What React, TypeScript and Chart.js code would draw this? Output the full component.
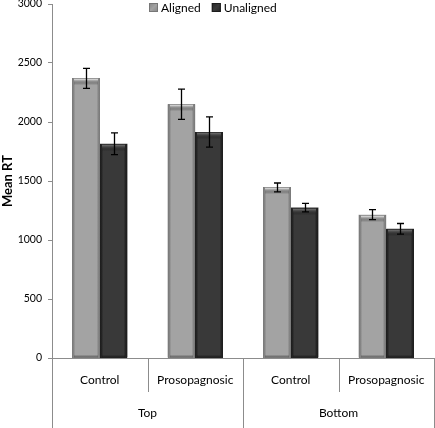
import React, { useEffect, useRef } from "react";
import { Chart, registerables } from "chart.js";

Chart.register(...registerables);

const categories = ["Control", "Prosopagnosic", "Control", "Prosopagnosic"];
const groupLabels = ["Top", "Bottom"];
const groupSpans = [2, 2];
const seriesNames = ["Aligned", "Unaligned"];
const alignedValues = [2370, 2150, 1445, 1215];
const alignedErrors = [85, 128, 38, 42];
const unalignedValues = [1815, 1915, 1275, 1095];
const unalignedErrors = [92, 128, 36, 45];
const yTicks = [0, 500, 1000, 1500, 2000, 2500, 3000];

const FONT = "Lato, 'Open Sans', sans-serif";
const errorSets = [alignedErrors, unalignedErrors];
const valueSets = [alignedValues, unalignedValues];
const fills = ["#a3a3a3", "#393939"];
const edges = ["#858585", "#242424"];
const outers = ["#777777", "#1c1c1c"];
const highlights = ["#d2d2d2", "#666666"];

const bevelPlugin = {
  id: "bevel",
  afterDatasetsDraw(chart: any) {
    const { ctx } = chart;
    ctx.save();
    chart.data.datasets.forEach((_ds: any, di: number) => {
      const meta = chart.getDatasetMeta(di);
      meta.data.forEach((el: any) => {
        const l = Math.round(el.x - el.width / 2);
        const r = Math.round(el.x + el.width / 2);
        const t = Math.round(el.y);
        const b = Math.round(el.base);
        const w = r - l;
        const h = b - t;
        const g = ctx.createLinearGradient(l, 0, r, 0);
        g.addColorStop(0, outers[di]);
        g.addColorStop(0.06, edges[di]);
        g.addColorStop(0.12, fills[di]);
        g.addColorStop(0.88, fills[di]);
        g.addColorStop(0.94, edges[di]);
        g.addColorStop(1, outers[di]);
        ctx.fillStyle = g;
        ctx.fillRect(l, t, w, h);
        const tg = ctx.createLinearGradient(0, t, 0, t + 7);
        tg.addColorStop(0, outers[di]);
        tg.addColorStop(0.2, highlights[di]);
        tg.addColorStop(1, "rgba(0,0,0,0)");
        ctx.fillStyle = tg;
        ctx.fillRect(l + 2, t, w - 4, 7);
        const bg = ctx.createLinearGradient(0, b - 3, 0, b);
        bg.addColorStop(0, "rgba(0,0,0,0)");
        bg.addColorStop(1, edges[di]);
        ctx.fillStyle = bg;
        ctx.fillRect(l + 2, b - 3, w - 4, 3);
      });
    });
    ctx.restore();
  },
};

const errorBarPlugin = {
  id: "errorBars",
  afterDatasetsDraw(chart: any) {
    const { ctx } = chart;
    const y = chart.scales.y;
    ctx.save();
    ctx.strokeStyle = "#000";
    ctx.lineWidth = 1.3;
    chart.data.datasets.forEach((_ds: any, di: number) => {
      const meta = chart.getDatasetMeta(di);
      meta.data.forEach((el: any, i: number) => {
        const v = valueSets[di][i];
        const e = errorSets[di][i];
        const yt = y.getPixelForValue(v + e);
        const yb = y.getPixelForValue(v - e);
        const cx = Math.round(el.x) + 0.5;
        ctx.beginPath();
        ctx.moveTo(cx, yt);
        ctx.lineTo(cx, yb);
        ctx.moveTo(cx - 3.5, yt);
        ctx.lineTo(cx + 3.5, yt);
        ctx.moveTo(cx - 3.5, yb);
        ctx.lineTo(cx + 3.5, yb);
        ctx.stroke();
      });
    });
    ctx.restore();
  },
};

const groupAxisPlugin = {
  id: "groupAxis",
  afterDraw(chart: any) {
    const { ctx, chartArea } = chart;
    const x = chart.scales.x;
    const n = categories.length;
    const left = chartArea.left;
    const right = chartArea.right;
    const bottom = chartArea.bottom;
    const step = (right - left) / n;
    ctx.save();
    ctx.strokeStyle = "#8c8c8c";
    ctx.lineWidth = 1;
    ctx.beginPath();
    ctx.moveTo(left, Math.round(bottom) + 0.5);
    ctx.lineTo(right, Math.round(bottom) + 0.5);
    const groupBounds = new Set<number>();
    let acc = 0;
    groupBounds.add(0);
    groupSpans.forEach((s) => {
      acc += s;
      groupBounds.add(acc);
    });
    for (let i = 0; i <= n; i++) {
      const bx = Math.round(left + i * step) + 0.5;
      const isGroup = groupBounds.has(i);
      ctx.moveTo(bx, bottom);
      ctx.lineTo(bx, isGroup ? chart.height : bottom + 34);
    }
    ctx.stroke();
    ctx.fillStyle = "#000";
    ctx.font = `12px ${FONT}`;
    ctx.textAlign = "center";
    ctx.textBaseline = "middle";
    categories.forEach((c, i) => {
      ctx.fillText(c, x.getPixelForValue(i), bottom + 22);
    });
    let start = 0;
    groupLabels.forEach((g, gi) => {
      const span = groupSpans[gi];
      const cx = left + (start + span / 2) * step;
      ctx.fillText(g, cx, bottom + 55);
      start += span;
    });

    ctx.textAlign = "left";
    let lx = 149;
    const ly = 3;
    seriesNames.forEach((name, i) => {
      const lg = ctx.createLinearGradient(lx, ly, lx + 9, ly + 9);
      lg.addColorStop(0, edges[i]);
      lg.addColorStop(0.5, fills[i]);
      lg.addColorStop(1, edges[i]);
      ctx.fillStyle = lg;
      ctx.fillRect(lx, ly, 9, 9);
      ctx.strokeStyle = outers[i];
      ctx.strokeRect(lx + 0.5, ly + 0.5, 8, 8);
      ctx.fillStyle = "#000";
      ctx.fillText(name, lx + 12, ly + 5.5);
      lx += 12 + ctx.measureText(name).width + 11;
    });
    ctx.restore();
  },
};

export default function App() {
  const ref = useRef<HTMLCanvasElement | null>(null);
  useEffect(() => {
    if (!ref.current) return;
    const chart = new Chart(ref.current, {
      type: "bar",
      data: {
        labels: categories,
        datasets: [
          {
            label: seriesNames[0],
            data: alignedValues,
            backgroundColor: fills[0],
            borderWidth: 0,
          },
          {
            label: seriesNames[1],
            data: unalignedValues,
            backgroundColor: fills[1],
            borderWidth: 0,
          },
        ],
      },
      options: {
        responsive: false,
        animation: false,
        devicePixelRatio: 1,
        layout: { padding: { top: 4, right: 1, bottom: 70, left: 0 } },
        datasets: { bar: { categoryPercentage: 0.58, barPercentage: 1 } },
        plugins: { legend: { display: false }, tooltip: { enabled: false } },
        scales: {
          x: { display: false },
          y: {
            min: 0,
            max: 3000,
            afterFit(scale: any) {
              scale.width = 52;
              scale.paddingTop = 0;
              scale.paddingBottom = 0;
            },
            afterBuildTicks(scale: any) {
              scale.ticks = yTicks.map((v) => ({ value: v }));
            },
            border: { display: true, color: "#8c8c8c" },
            grid: {
              drawOnChartArea: false,
              drawTicks: true,
              tickLength: 4,
              color: "#8c8c8c",
            },
            ticks: {
              color: "#000",
              font: { family: FONT, size: 10.5 },
              padding: 6,
              callback: (v: any) => String(v),
            },
            title: {
              display: true,
              text: "Mean RT",
              color: "#000",
              font: { family: FONT, size: 13, weight: "bold" },
              padding: { top: 0, bottom: 0 },
            },
          },
        },
      },
      plugins: [bevelPlugin, errorBarPlugin, groupAxisPlugin],
    });
    return () => chart.destroy();
  }, []);
  return (
    <div style={{ position: "fixed", left: 0, top: 0, width: 435, height: 428, background: "#fff" }}>
      <canvas ref={ref} width={435} height={428} />
    </div>
  );
}
